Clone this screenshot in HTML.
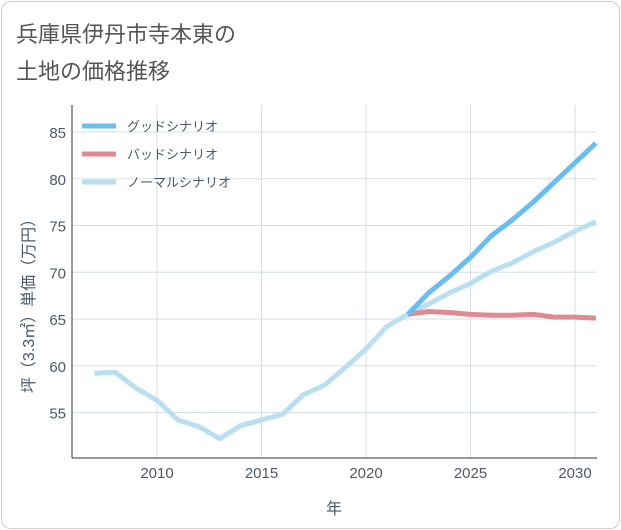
<!DOCTYPE html>
<html><head><meta charset="utf-8"><style>
body{margin:0;background:#fff;font-family:"Liberation Sans","Noto Sans CJK JP",sans-serif;}
#card{position:absolute;left:1px;top:1px;width:617px;height:526px;border:1px solid #ccc;border-radius:10px;background:#fff;}
#title{position:absolute;left:16px;top:16px;font-size:22px;line-height:37px;color:#555;}
</style></head><body>
<div id="card"></div>
<div id="title">兵庫県伊丹市寺本東の<br>土地の価格推移</div>
<svg id="chart" width="621" height="530" style="position:absolute;left:0;top:0"></svg>
<script>
const years=[2007,2008,2009,2010,2011,2012,2013,2014,2015,2016,2017,2018,2019,2020,2021,2022,2023,2024,2025,2026,2027,2028,2029,2030,2031];
const normalVals=[59.2,59.3,57.6,56.3,54.2,53.5,52.2,53.6,54.2,54.8,56.9,57.9,59.8,61.8,64.2,65.5,66.6,67.8,68.8,70.1,71.0,72.2,73.2,74.4,75.4];
const futureYears=[2022,2023,2024,2025,2026,2027,2028,2029,2030,2031];
const goodVals=[65.5,67.8,69.6,71.6,73.9,75.6,77.5,79.6,81.7,83.8];
const badVals=[65.5,65.8,65.7,65.5,65.4,65.4,65.5,65.2,65.2,65.1];
const xTicks=[2010,2015,2020,2025,2030];
const yTicks=[55,60,65,70,75,80,85];
const legendLabels=["グッドシナリオ","バッドシナリオ","ノーマルシナリオ"];
const colors=["#6bbdf0","#e08a92","#b9dff0"];
const L=72,R=597,T=105,B=458;
const x=v=>157+(v-2010)*20.9;
const y=v=>132+(85-v)*9.35;
const svg=document.getElementById('chart');
const NS='http://www.w3.org/2000/svg';
function mk(t,a){const e=document.createElementNS(NS,t);for(const k in a)e.setAttribute(k,a[k]);svg.appendChild(e);return e;}
xTicks.forEach(v=>{const g=mk('line',{x1:x(v),x2:x(v),y1:T,y2:B,stroke:'#d5dfe8','stroke-width':1});

const t=mk('text',{x:x(v),y:478,'text-anchor':'middle','font-size':15,fill:'#4a5a6a'});t.textContent=v;
});
yTicks.forEach(v=>{const g=mk('line',{x1:L,x2:R,y1:y(v),y2:y(v),stroke:'#d5dfe8','stroke-width':1});

const t=mk('text',{x:66,y:y(v)+6,'text-anchor':'end','font-size':15,fill:'#4a5a6a'});t.textContent=v;
});
const ax=mk('line',{x1:L,x2:R,y1:B,y2:B,stroke:'#333','stroke-width':1});

const ay=mk('line',{x1:L,x2:L,y1:T,y2:B,stroke:'#333','stroke-width':1});

function line(xs,vs,c,name){const p=mk('polyline',{points:xs.map((v,i)=>x(v)+','+y(vs[i])).join(' '),fill:'none',stroke:c,'stroke-width':5,'stroke-linejoin':'round'});
}
line(years,normalVals,colors[2],'normal-scenario-line');
line(futureYears,badVals,colors[1],'bad-scenario-line');
line(futureYears,goodVals,colors[0],'good-scenario-line');
legendLabels.forEach((s,i)=>{const ly=126+i*28;
const l=mk('line',{x1:82,x2:116,y1:ly,y2:ly,stroke:colors[i],'stroke-width':5});

const t=mk('text',{x:127,y:ly+5,'font-size':13,fill:'#4a5a6a'});t.textContent=s;
});
const xt=mk('text',{x:334,y:514,'text-anchor':'middle','font-size':16,fill:'#4a5a6a'});xt.textContent='年';

const yt=mk('text',{x:0,y:0,'text-anchor':'middle','font-size':16,fill:'#4a5a6a',transform:'translate(34,302) rotate(-90)'});yt.textContent='坪（3.3㎡）単価（万円）';

</script>
</body></html>
